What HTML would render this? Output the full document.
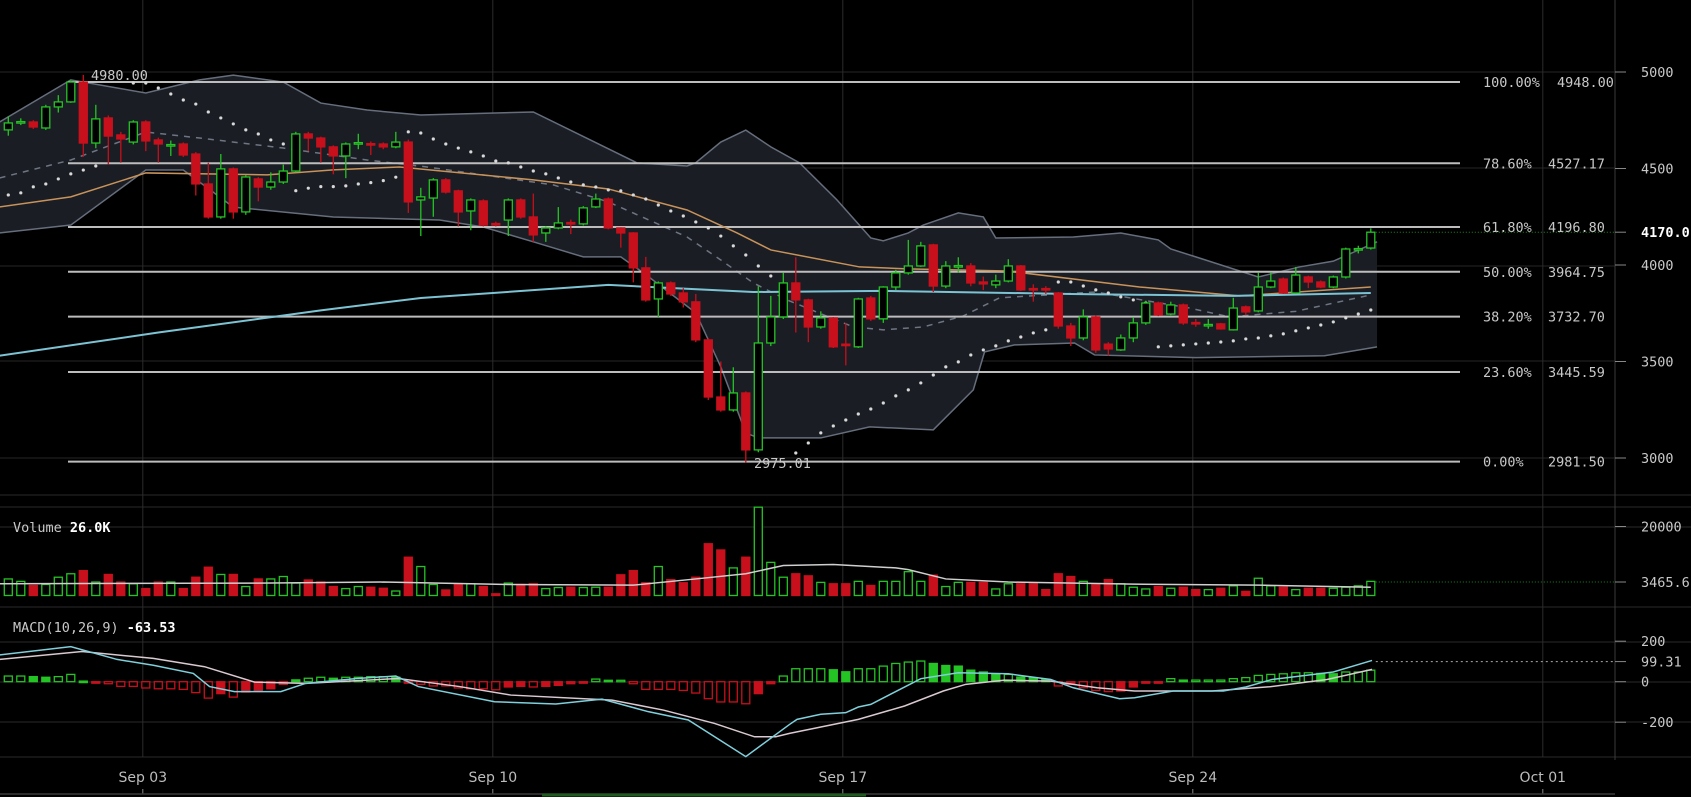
<!DOCTYPE html>
<html><head><meta charset="utf-8"><title>BTC chart</title>
<style>
html,body{margin:0;padding:0;background:#000;}
svg{display:block;}
text{font-family:"DejaVu Sans Mono","Liberation Mono",monospace;font-size:13.5px;fill:#c8c8c8;}
.date{font-family:"DejaVu Sans","Liberation Sans",sans-serif;font-size:14px;fill:#bdbdbd;}
</style></head>
<body>
<svg id="chart" xmlns="http://www.w3.org/2000/svg" width="1691" height="797" viewBox="0 0 1691 797">
<rect x="0" y="0" width="1691" height="797" fill="#000"/>
<g id="grid"></g>
<g id="bands"></g>
<g id="fibs"></g>
<g id="lines"></g>
<g id="sar"></g>
<g id="candles"></g>
<g id="volume"></g>
<g id="macd"></g>
<g id="axes"></g>
</svg>
<script>
// ---- candle data (6h candles, index 0..109) ----
const opens=[4700,4741,4741,4710,4819,4845,4948,4632,4762,4674,4637,4741,4648,4620,4627,4575,4420,4249,4498,4275,4446,4404,4430,4487,4679,4658,4612,4565,4630,4629,4627,4612,4637,4337,4347,4441,4384,4280,4332,4215,4233,4337,4249,4166,4192,4220,4213,4301,4342,4192,4166,3985,3824,3907,3855,3809,3612,3316,3249,3337,3042,3596,3731,3907,3819,3679,3726,3590,3576,3829,3721,3886,3959,3995,4104,3891,3993,3995,3912,3897,3917,3995,3878,3878,3855,3684,3622,3731,3590,3560,3622,3700,3803,3746,3793,3702,3688,3695,3664,3783,3762,3886,3927,3855,3938,3912,3886,3938,4081,4088];
const closes=[4736,4743,4715,4819,4845,4948,4632,4757,4668,4653,4741,4643,4627,4624,4570,4420,4249,4498,4275,4456,4404,4430,4487,4679,4658,4612,4565,4627,4634,4625,4612,4637,4327,4353,4441,4378,4275,4337,4207,4211,4337,4249,4156,4192,4218,4216,4296,4342,4192,4166,3985,3819,3907,3850,3809,3612,3316,3249,3337,3042,3596,3731,3907,3819,3679,3726,3576,3586,3824,3721,3886,3959,3995,4099,3891,3995,3997,3907,3902,3917,3995,3871,3874,3874,3684,3622,3731,3560,3565,3622,3700,3803,3741,3793,3700,3698,3692,3669,3777,3757,3886,3917,3855,3948,3912,3886,3938,4083,4085,4170];
const highs=[4770,4760,4750,4830,4880,4955,4985,4830,4775,4690,4750,4750,4660,4645,4635,4585,4530,4575,4505,4465,4455,4480,4520,4690,4690,4665,4620,4635,4680,4640,4635,4690,4650,4400,4450,4450,4390,4345,4340,4225,4345,4345,4370,4200,4300,4235,4305,4370,4350,4195,4170,4042,3915,3915,3880,3850,3620,3500,3470,3345,3890,3840,3960,4040,3825,3760,3730,3700,3830,3840,3890,3975,4130,4120,4110,4020,4040,4010,3940,3950,4030,4000,3900,3890,3860,3700,3770,3740,3600,3640,3730,3815,3810,3810,3800,3720,3720,3700,3830,3790,3960,3960,3935,3990,3945,3920,3945,4090,4100,4190];
const lows=[4670,4725,4705,4700,4790,4840,4560,4605,4520,4530,4625,4590,4530,4565,4560,4360,4240,4240,4240,4260,4330,4390,4420,4480,4590,4530,4470,4450,4600,4570,4600,4605,4270,4150,4250,4370,4200,4180,4200,4200,4150,4240,4120,4120,4185,4160,4205,4295,4185,4090,3910,3810,3730,3840,3780,3600,3300,3240,3240,2975,3030,3580,3720,3650,3600,3670,3570,3480,3570,3710,3700,3870,3950,3990,3860,3880,3960,3890,3870,3880,3910,3865,3810,3850,3670,3580,3610,3545,3530,3555,3600,3690,3735,3740,3690,3680,3670,3665,3660,3740,3755,3880,3850,3850,3880,3880,3880,3930,4060,4080];
const volumesK=[4.8,4.1,2.9,3.2,5.3,6.3,7.2,3.9,6.1,3.9,3.4,2.0,3.9,3.9,2.0,5.3,8.2,6.1,6.1,2.6,4.8,4.8,5.5,3.6,4.5,3.9,2.6,2.0,2.6,2.4,2.1,1.3,11.1,8.4,3.2,1.6,3.2,3.4,2.6,0.5,3.6,3.2,3.4,2.0,2.3,2.4,2.3,2.4,2.4,6.0,7.2,3.7,8.4,4.6,3.7,5.3,15.0,13.2,8.0,11.1,25.6,9.6,5.3,6.3,5.7,3.8,3.4,3.4,4.1,2.9,4.1,4.1,6.9,4.1,5.9,2.6,3.8,3.8,3.8,1.9,3.4,3.4,3.4,1.7,6.3,5.5,4.1,3.1,4.6,3.4,2.4,1.9,2.6,2.1,2.4,1.7,1.7,2.1,2.8,1.2,5.0,2.8,2.4,1.7,2.1,2.1,2.1,2.4,2.8,4.1];
const macdHist=[28,28,25,22,25,36,3,-2,-10,-23,-23,-31,-35,-35,-38,-54,-81,-59,-76,-51,-46,-35,-13,9,17,22,17,22,22,25,25,22,-3,-13,-21,-21,-31,-35,-35,-40,-26,-23,-26,-23,-18,-10,-3,13,7,7,-10,-38,-38,-38,-43,-56,-84,-100,-100,-109,-59,-10,28,64,64,64,59,49,64,64,77,90,97,102,90,80,77,57,48,36,36,23,20,12,-21,-13,-30,-43,-49,-46,-26,-5,-2,15,8,8,8,8,15,20,31,36,39,44,44,41,39,48,48,57];
// ---- indicator readings (index, value) ----
const bbUpperIdx=[-0.7,5,11,15.3,18,22,25,28.7,33,42,50.3,54.3,55,57,59,61,63.3,66.3,69,70,72,73.2,76,78,79,85.2,89,92,93,95,100,103.3,106,109.5];
const bbUpper=[4741,4959,4891,4959,4984,4948,4839,4803,4777,4793,4529,4513,4530,4637,4699,4612,4529,4337,4140,4125,4166,4207,4270,4249,4140,4145,4166,4130,4083,4042,3938,3990,4020,4120];
const bbLowerIdx=[-0.7,5,11,14,18,26,34.5,38,42,46,49,51,55,57,59,60,65,68.9,74,77.2,78.1,80.5,85.3,86.9,95,105.3,109.5];
const bbLower=[4166,4207,4492,4492,4300,4249,4233,4197,4120,4042,4042,3950,3752,3472,3130,3104,3104,3161,3146,3353,3550,3586,3596,3534,3520,3530,3576];
const bbMidIdx=[-0.7,5,11,15.3,22,28.7,33.5,43.6,48,51.6,54.3,57,59.6,62.3,67.6,70,73.2,76.4,79.3,87,94.5,97.7,103,109];
const bbMid=[4451,4544,4689,4658,4606,4544,4508,4415,4327,4223,4145,4026,3907,3819,3679,3664,3679,3736,3830,3860,3777,3731,3760,3845];
const maSlowIdx=[-0.7,5,11,20.7,26,31.3,42,48,54.3,58.3,61,68.1,71.9,79.9,90.5,98.5,109];
const maSlow=[4301,4353,4477,4467,4493,4508,4441,4394,4285,4166,4078,3990,3980,3969,3886,3840,3886];
const maLongIdx=[-0.7,12,25,33,48,59.6,70,85,98,109];
const maLong=[3530,3650,3765,3829,3897,3860,3866,3850,3840,3855];
const sarA=[4363,4374,4405,4420,4446,4472,4492,4513];
const sarB=[4943,4943,4917,4886,4855,4834,4793,4762,4731,4700,4679,4648,4627];
const sarC=[4385,4398,4406,4406,4410,4420,4427,4437,4455];
const sarD=[4690,4684,4653,4627,4606,4586,4565,4539,4529,4508,4487,4472,4451,4430,4415,4404,4389,4384,4363,4342,4311,4280,4254,4223,4192,4150,4099,4052,3995,3943];
const sarE=[3026,3078,3130,3166,3197,3228,3254,3285,3322,3353,3389,3430,3472,3498,3534,3560,3581,3607,3627,3648,3664];
const sarF=[3912,3912,3891,3871,3855,3835,3819,3803];
const sarG=[3576,3581,3586,3591,3596,3601,3607,3617,3622,3633,3643,3659,3674,3689,3705,3726,3746,3767];
const sarStarts=[0,10,23,32,63,84,92];
const volMaIdx=[-0.7,20,30,40,50,55,59,62,66,71,72,75,80,90,100,109];
const volMaK=[3.4,3.6,3.9,3.2,3.0,4.8,6.3,8.7,9.0,8.0,7.5,4.8,3.9,3.3,3.0,2.4];
const macdIdx=[-0.7,5,8.7,11.6,14.8,16.1,18.1,21.8,23.8,27.9,31,32.8,38.9,43.8,47.5,51.2,54.4,59,62.5,63.1,65,67,68,69,73,76,80,83.4,85.2,88.9,90.1,93.2,97.2,99,101.1,106,109.1];
const macdLine=[132,173,110,81,41,-24,-49,-49,-8,16,28,-24,-99,-110,-86,-148,-189,-370,-211,-186,-161,-153,-125,-112,15,44,39,11,-30,-84,-79,-46,-46,-26,11,48,105];
const signalIdx=[-0.7,5.9,11.6,15.7,19.7,23.8,31.2,36.1,40.2,48.3,52.4,56.5,59.7,61.4,62.5,68,71.7,74.8,76.6,79.7,83.4,87.1,90.1,96.3,100.9,105.5,109.1];
const signalLine=[110,149,115,74,-2,-8,16,-24,-66,-91,-140,-206,-272,-272,-255,-186,-120,-46,-13,8,3,-30,-46,-46,-25,11,61];
const fibPct=["100.00%","78.60%","61.80%","50.00%","38.20%","23.60%","0.00%"];
const fibVal=[4948.00,4527.17,4196.80,3964.75,3732.70,3445.59,2981.50];
const priceTicks=[5000,4500,4000,3500,3000];
const volTicks=[20000];
const macdTicks=[200,0,-200];
const dateLabels=["Sep 03","Sep 10","Sep 17","Sep 24","Oct 01"];
const dateIdx=[11,39,67,95,123];
const lastPrice=4170.0, lastVol=3465.6, lastMacd=99.31;

// ---- scales ----
const NS="http://www.w3.org/2000/svg";
const X=i=>8.3+i*12.5;
const YP=p=>72+(5000-p)*0.193;
const YV=k=>595.5-k*3.45;
const YM=m=>681.7-m*0.2025;
const GREEN="#25c425", RED="#c8101c";
function mk(tag,attrs,parent){const e=document.createElementNS(NS,tag);for(const k in attrs)e.setAttribute(k,attrs[k]);parent.appendChild(e);return e;}
const $=id=>document.getElementById(id);

// grid
const grid=$("grid");
[72,168,266,361,458].forEach(y=>{const l=mk("line",{x1:0,x2:1615,y1:y,y2:y,stroke:"#262626","stroke-width":1},grid);

});
[495,507,527,607,642,682,722,757].forEach(y=>{const l=mk("line",{x1:0,x2:1691,y1:y,y2:y,stroke:"#2a2a2a","stroke-width":1},grid);

});
dateIdx.forEach(i=>{const l=mk("line",{x1:X(i)-3,x2:X(i)-3,y1:0,y2:757,stroke:"#2c2c2c","stroke-width":1},grid);

});
const ax=mk("line",{x1:1615,x2:1615,y1:0,y2:760,stroke:"#3a3a3a","stroke-width":1},grid);



// bands
function pts(idx,vals,sy){return idx.map((i,k)=>[X(i),sy(vals[k])]);}
const up=pts(bbUpperIdx,bbUpper,YP), lo=pts(bbLowerIdx,bbLower,YP);
const fill=mk("polygon",{points:up.concat(lo.slice().reverse()).map(p=>p.join(",")).join(" "),fill:"#1a1d24"},$("bands"));


function pl(p,stroke,w,parent,extra){const e=mk("polyline",Object.assign({points:p.map(q=>q.join(",")).join(" "),fill:"none",stroke:stroke,"stroke-width":w},extra||{}),parent);return e;}
const bu=pl(up,"#666e7c",1.5,$("bands"));


const bl=pl(lo,"#666e7c",1.5,$("bands"));


const bm=pl(pts(bbMidIdx,bbMid,YP),"#6e7582",1.5,$("bands"),{"stroke-dasharray":"6,6"});



// fib levels
const fibs=$("fibs");
fibVal.forEach((v,k)=>{const y=YP(v);
const l=mk("line",{x1:68,x2:1460,y1:y,y2:y,stroke:"#bdbdbd","stroke-width":2},fibs);


const t=mk("text",{x:1483,y:y+5},fibs);t.textContent=fibPct[k];


const t2=mk("text",{x:k===0?1557:1548,y:y+5},fibs);t2.textContent=v.toFixed(2);

});
const hiL=mk("text",{x:91,y:80},fibs);hiL.textContent="4980.00";


const loL=mk("text",{x:754,y:468},fibs);loL.textContent="2975.01";



// moving averages
const mo=pl(pts(maSlowIdx,maSlow,YP),"#c8935a",1.5,$("lines"));


const mc=pl(pts(maLongIdx,maLong,YP),"#7cc4d4",2,$("lines"));



// SAR
[sarA,sarB,sarC,sarD,sarE,sarF,sarG].forEach((seg,s)=>seg.forEach((v,k)=>{
const c=mk("circle",{cx:X(sarStarts[s]+k),cy:YP(v),r:1.6,fill:"#d8d8d8"},$("sar"));

}));

// candles
const cg=$("candles");
opens.forEach((o,i)=>{const c=closes[i],g=c>=o,col=g?GREEN:RED,x=X(i);
const w=mk("line",{x1:x,x2:x,y1:YP(highs[i]),y2:YP(lows[i]),stroke:col,"stroke-width":1.3},cg);


const top=YP(Math.max(o,c)),h=Math.max(1.5,YP(Math.min(o,c))-top);
const r=mk("rect",{x:x-4,y:top,width:8,height:h,fill:g?"#000":col,stroke:col,"stroke-width":1.3},cg);

});
const lp=mk("line",{x1:X(109)+5,x2:1615,y1:YP(lastPrice),y2:YP(lastPrice),stroke:"#1f8a1f","stroke-dasharray":"1,2"},cg);



// volume
const vg=$("volume");
volumesK.forEach((v,i)=>{const g=closes[i]>=opens[i],col=g?GREEN:RED,y=YV(v);
const r=mk("rect",{x:X(i)-4,y:y,width:8,height:595.5-y,fill:g?"#000":col,stroke:col,"stroke-width":1.3},vg);

});
const vm=pl(pts(volMaIdx,volMaK,YV),"#cfcfcf",1.5,vg);


const vl=mk("line",{x1:X(109)+5,x2:1615,y1:582,y2:582,stroke:"#1f8a1f","stroke-dasharray":"1,2"},vg);


const vt=mk("text",{x:13,y:532},vg);vt.innerHTML='Volume <tspan style="fill:#fff;font-weight:bold">26.0K</tspan>';



// macd
const mg=$("macd");
macdHist.forEach((v,i)=>{const g=v>=0,col=g?GREEN:RED,prev=i>0?macdHist[i-1]:0,hollow=Math.abs(v)>=Math.abs(prev);
const y0=YM(0),y1=YM(v),h=Math.max(1.5,Math.abs(y1-y0));
const r=mk("rect",{x:X(i)-4,y:Math.min(y0,y1),width:8,height:h,fill:hollow?"#000":col,stroke:col,"stroke-width":1.3},mg);

});
const sl=pl(pts(signalIdx,signalLine,YM),"#d9c9d1",1.5,mg);


const ml=pl(pts(macdIdx,macdLine,YM),"#7fd0dc",1.5,mg);


const mlast=mk("line",{x1:X(109)+5,x2:1615,y1:YM(lastMacd),y2:YM(lastMacd),stroke:"#aaa","stroke-dasharray":"2,3"},mg);


const mt=mk("text",{x:13,y:632},mg);mt.innerHTML='MACD(10,26,9) <tspan style="fill:#fff;font-weight:bold">-63.53</tspan>';



// axes labels
const ag=$("axes");
function tick(y,label,bold){const l=mk("line",{x1:1615,x2:1626,y1:y,y2:y,stroke:"#888"},ag);


const t=mk("text",{x:1641,y:y+5},ag);t.textContent=label;
if(bold){t.setAttribute("style","fill:#fff;font-weight:bold");}

}
priceTicks.forEach(p=>tick(YP(p),String(p)));
tick(YP(lastPrice),lastPrice.toFixed(1),true);
volTicks.forEach(v=>tick(YV(v/1000),String(v)));
tick(582,lastVol.toFixed(1));
macdTicks.forEach(m=>tick(YM(m),String(m)));
tick(YM(lastMacd),lastMacd.toFixed(2));
dateLabels.forEach((d,k)=>{const x=X(dateIdx[k])-3;
const t=mk("text",{x:x,y:782,"text-anchor":"middle",class:"date"},ag);t.textContent=d;


const tk=mk("line",{x1:x,x2:x,y1:789,y2:794,stroke:"#888"},ag);

});
const sb=mk("line",{x1:0,x2:1615,y1:794,y2:794,stroke:"#3a3a3a","stroke-width":1.5},ag);


const sbt=mk("line",{x1:542,x2:866,y1:795,y2:795,stroke:"#1f5a1f","stroke-width":3},ag);


</script>
</body></html>
